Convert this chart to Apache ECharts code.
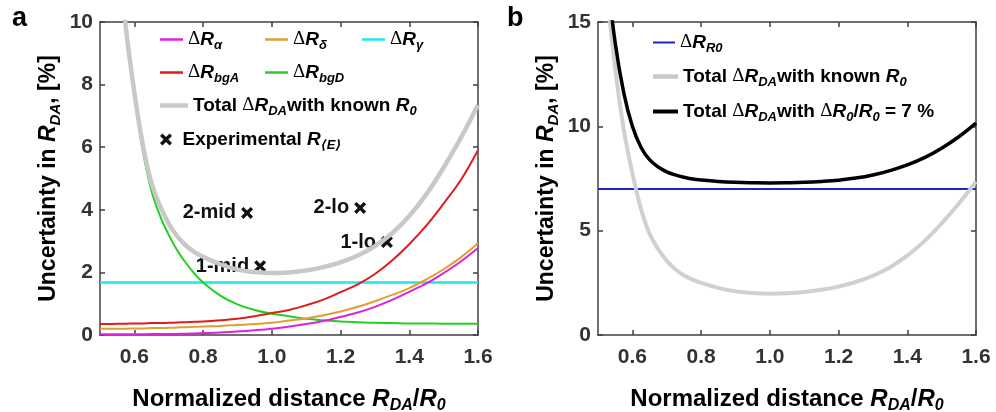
<!DOCTYPE html>
<html>
<head>
<meta charset="utf-8">
<script src="https://cdn.jsdelivr.net/npm/echarts@6/dist/echarts.min.js"></script>
<style>
html, body { margin: 0; padding: 0; background: #fff; }
#chart { width: 996px; height: 412px; }
</style>
</head>
<body>
<div id="chart"></div>
<script>
// normalized distance R_DA/R0
var distance = [0.5, 0.525, 0.55, 0.575, 0.6, 0.625, 0.65, 0.675, 0.7, 0.725, 0.75, 0.775, 0.8,
                0.85, 0.9, 0.95, 1.0, 1.05, 1.1, 1.15, 1.2, 1.25, 1.3, 1.35, 1.4, 1.45, 1.5, 1.55, 1.6];
// uncertainty contributions, %
var dRalpha = [0.02, 0.02, 0.02, 0.02, 0.02, 0.02, 0.03, 0.03, 0.03, 0.035, 0.04, 0.05, 0.06,
               0.08, 0.11, 0.15, 0.2, 0.27, 0.35, 0.45, 0.58, 0.72, 0.9, 1.12, 1.38, 1.65, 1.98, 2.35, 2.78];
var dRdelta = [0.2, 0.2, 0.2, 0.2, 0.21, 0.21, 0.22, 0.22, 0.23, 0.24, 0.25, 0.26, 0.27,
               0.29, 0.32, 0.35, 0.39, 0.46, 0.53, 0.63, 0.75, 0.9, 1.08, 1.28, 1.5, 1.78, 2.1, 2.48, 2.93];
var dRgamma = [1.68, 1.68, 1.68, 1.68, 1.68, 1.68, 1.68, 1.68, 1.68, 1.68, 1.68, 1.68, 1.68,
               1.68, 1.68, 1.68, 1.68, 1.68, 1.68, 1.68, 1.68, 1.68, 1.68, 1.68, 1.68, 1.68, 1.68, 1.68, 1.68];
var dRbgA = [0.35, 0.35, 0.36, 0.36, 0.37, 0.37, 0.38, 0.38, 0.39, 0.4, 0.41, 0.42, 0.43,
             0.47, 0.52, 0.6, 0.7, 0.8, 0.95, 1.13, 1.37, 1.62, 1.95, 2.38, 2.9, 3.5, 4.2, 4.95, 5.9];
var dRbgD = [19.9, 16.4, 12.7, 9.75, 7.6, 5.85, 4.6, 3.8, 3.2, 2.7, 2.3, 1.96, 1.68,
             1.26, 0.98, 0.8, 0.68, 0.6, 0.52, 0.47, 0.43, 0.41, 0.39, 0.38, 0.37, 0.37, 0.36, 0.36, 0.36];
var totalKnownR0 = [20, 16.5, 12.8, 9.85, 7.75, 6.05, 4.85, 4.12, 3.56, 3.15, 2.86, 2.65, 2.5,
                    2.26, 2.09, 2.01, 1.98, 2.0, 2.06, 2.17, 2.32, 2.54, 2.84, 3.25, 3.8, 4.5, 5.35, 6.3, 7.35];
var dRR0 = [7, 7, 7, 7, 7, 7, 7, 7, 7, 7, 7, 7, 7,
            7, 7, 7, 7, 7, 7, 7, 7, 7, 7, 7, 7, 7, 7, 7, 7];
var totalWithR0 = [21, 17.5, 14.0, 11.6, 10.0, 9.0, 8.4, 8.05, 7.82, 7.67, 7.56, 7.48, 7.43,
                   7.36, 7.32, 7.3, 7.29, 7.3, 7.32, 7.36, 7.42, 7.52, 7.67, 7.88, 8.15, 8.5, 8.95, 9.5, 10.15];
// experimental points
var expNames = ['2-mid', '1-mid', '2-lo', '1-lo'];
var expX = [0.928, 0.966, 1.257, 1.335];
var expY = [3.9, 2.2, 4.06, 2.97];
// ticks
var xTicks = [0.6, 0.8, 1.0, 1.2, 1.4, 1.6];

var F = '"Liberation Sans", Arial, "DejaVu Sans", sans-serif';
var crossPath = 'path://M0,2L2,0L5,3L8,0L10,2L7,5L10,8L8,10L5,7L2,10L0,8L3,5Z';

function rich(size) {
    var sub = Math.round(size * 0.66);
    return {
        t: { fontSize: size, fontWeight: 'bold', fontFamily: F, color: '#000', lineHeight: size + 6 },
        i: { fontSize: size, fontWeight: 'bold', fontStyle: 'italic', fontFamily: F, color: '#000', lineHeight: size + 6 },
        d: { fontSize: size, fontFamily: '"Liberation Serif", "DejaVu Serif", serif', color: '#000', lineHeight: size + 6 },
        s: { fontSize: sub, fontWeight: 'bold', fontStyle: 'italic', fontFamily: F, color: '#000',
             verticalAlign: 'bottom', lineHeight: sub }
    };
}

var labelText = {
    'dRa': '{d|Δ}{i|R}{s|α}',
    'dRd': '{d|Δ}{i|R}{s|δ}',
    'dRg': '{d|Δ}{i|R}{s|γ}',
    'dRbgA': '{d|Δ}{i|R}{s|bgA}',
    'dRbgD': '{d|Δ}{i|R}{s|bgD}',
    'total': '{t|Total }{d|Δ}{i|R}{s|DA}{t|with known }{i|R}{s|0}',
    'exp': '{t|Experimental }{i|R}{s|⟨E⟩}',
    'dRR0': '{d|Δ}{i|R}{s|R0}',
    'totalR0': '{t|Total }{d|Δ}{i|R}{s|DA}{t|with }{d|Δ}{i|R}{s|0}{t|/}{i|R}{s|0}{t| = 7 %}'
};

// legend entries: name, left, row centre, icon size
var legendItems = [
    ['dRa', 160, 43, 23, 2.5], ['dRd', 265, 43, 23, 2.5], ['dRg', 362, 43, 23, 2.5],
    ['dRbgA', 160, 76, 23, 2.5], ['dRbgD', 265, 76, 23, 2.5],
    ['total', 160, 109, 28, 4.5], ['exp', 160, 143, 23, 12],
    ['dRR0', 653, 46, 22, 2], ['total', 653, 80, 25, 4.5], ['totalR0', 653, 115, 25, 4]
];
var legends = legendItems.map(function (it) {
    return {
        data: [{ name: it[0], icon: it[0] === 'exp' ? crossPath : 'rect' }],
        left: it[1], top: it[2] - 13, padding: 0,
        itemWidth: it[3], itemHeight: it[4], selectedMode: false,
        formatter: function (n) { return labelText[n]; },
        textStyle: { rich: rich(19) }
    };
});

function pairs(arr) {
    return distance.map(function (x, i) { return [x, arr[i]]; });
}
function lineSeries(name, arr, color, width, xi, yi) {
    return {
        type: 'line', name: name, data: pairs(arr), xAxisIndex: xi, yAxisIndex: yi,
        showSymbol: false, smooth: 0.4, clip: true, silent: true,
        lineStyle: { color: color, width: width }, itemStyle: { color: color }
    };
}

var axisLineStyle = { color: '#404040', width: 1.5 };
function xAx(grid, pos, labels) {
    return {
        type: 'value', gridIndex: grid, position: pos, min: 0.5, max: 1.6,
        axisLine: { show: true, onZero: false, lineStyle: axisLineStyle },
        axisTick: { show: true, inside: true, length: 5, customValues: xTicks, lineStyle: axisLineStyle },
        axisLabel: { show: labels, customValues: xTicks, margin: 12, fontSize: 21, fontWeight: 'bold', fontFamily: F, color: '#333',
                     formatter: function (v) { return v.toFixed(1); } },
        splitLine: { show: false },
        name: labels ? '{t|Normalized distance }{i|R}{s|DA}{t|/}{i|R}{s|0}' : '',
        nameLocation: 'middle', nameGap: 49,
        nameTextStyle: { rich: rich(24) }
    };
}
function yAx(grid, pos, labels, max, step) {
    return {
        type: 'value', gridIndex: grid, position: pos, min: 0, max: max, interval: step,
        axisLine: { show: true, onZero: false, lineStyle: axisLineStyle },
        axisTick: { show: true, inside: true, length: 5, lineStyle: axisLineStyle },
        axisLabel: { show: labels, margin: 7, fontSize: 21, fontWeight: 'bold', fontFamily: F, color: '#333' },
        splitLine: { show: false },
        name: labels ? '{t|Uncertainty in }{i|R}{s|DA}{t|, [%]}' : '',
        nameLocation: 'middle', nameGap: 37, nameRotate: 90,
        nameTextStyle: { rich: rich(23) }
    };
}

var chart = echarts.init(document.getElementById('chart'), null, { renderer: 'canvas' });
chart.setOption({
    animation: false,
    backgroundColor: '#fff',
    title: [
        { text: 'a', left: 12, top: 5, padding: 0, textStyle: { fontSize: 27, fontWeight: 'bold', fontFamily: F, color: '#000' } },
        { text: 'b', left: 507, top: 5, padding: 0, textStyle: { fontSize: 27, fontWeight: 'bold', fontFamily: F, color: '#000' } }
    ],
    legend: legends,
    grid: [
        { left: 100, top: 22, width: 378, height: 313, outerBoundsMode: 'none', containLabel: false },
        { left: 598, top: 22, width: 378, height: 313, outerBoundsMode: 'none', containLabel: false }
    ],
    xAxis: [xAx(0, 'bottom', true), xAx(0, 'top', false), xAx(1, 'bottom', true), xAx(1, 'top', false)],
    yAxis: [yAx(0, 'left', true, 10, 2), yAx(0, 'right', false, 10, 2), yAx(1, 'left', true, 15, 5), yAx(1, 'right', false, 15, 5)],
    series: [
        lineSeries('dRg', dRgamma, '#1ee8ee', 2.5, 0, 0),
        lineSeries('dRbgD', dRbgD, '#22d022', 2, 0, 0),
        lineSeries('dRbgA', dRbgA, '#e21b1b', 2, 0, 0),
        lineSeries('dRd', dRdelta, '#e0a030', 2, 0, 0),
        lineSeries('dRa', dRalpha, '#e020e0', 2, 0, 0),
        lineSeries('total', totalKnownR0, '#c8c8c8', 4.5, 0, 0),
        {
            type: 'scatter', name: 'exp', xAxisIndex: 0, yAxisIndex: 0, silent: true,
            data: expX.map(function (x, i) { return { value: [x, expY[i]], name: expNames[i] }; }),
            symbol: crossPath, symbolSize: 12,
            itemStyle: { color: '#111', opacity: 1 },
            label: { show: true, position: 'left', distance: 5, formatter: '{b}',
                     fontSize: 20, fontWeight: 'bold', fontFamily: F, color: '#111' }
        },
        lineSeries('dRR0', dRR0, '#2323c8', 2, 2, 2),
        lineSeries('total', totalKnownR0, '#d0d0d0', 4, 2, 2),
        lineSeries('totalR0', totalWithR0, '#000', 3.5, 2, 2)
    ]
});
</script>
</body>
</html>
